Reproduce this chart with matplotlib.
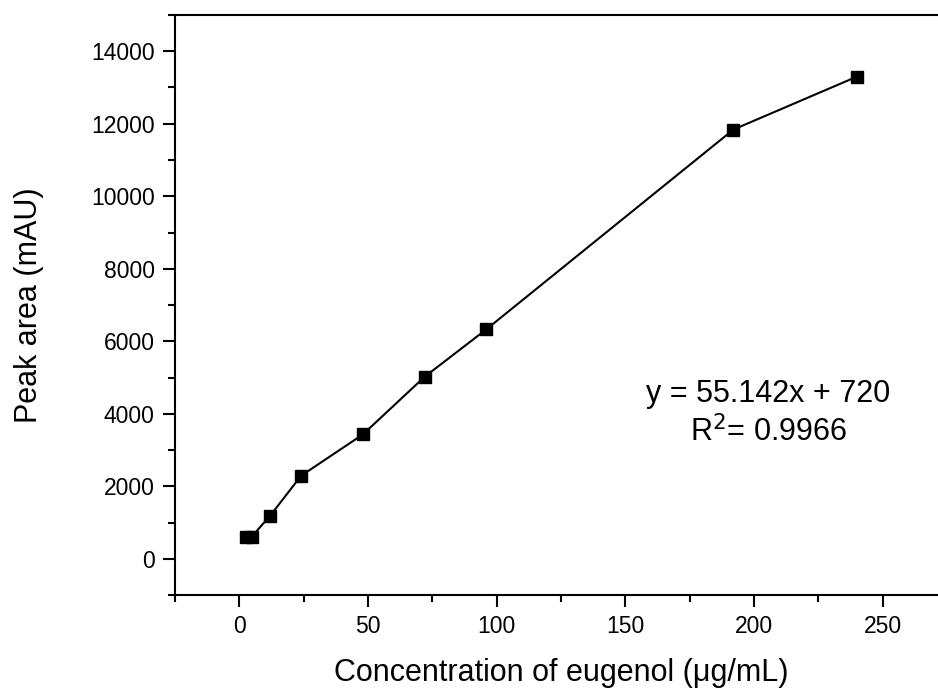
import matplotlib
matplotlib.use('Agg')
import matplotlib.pyplot as plt
from matplotlib.ticker import MultipleLocator

plt.rcParams['font.family'] = ['Liberation Sans', 'DejaVu Sans']

# eugenol calibration
conc = [2.4, 4.8, 12, 24, 48, 72, 96, 192, 240]
peak_area = [600, 610, 1190, 2290, 3430, 5020, 6330, 11840, 13300]

eq_text = 'y = 55.142x + 720'
r2_text = 'R$^2$= 0.9966'

fig = plt.figure(figsize=(9.38, 6.91), dpi=100)
ax = fig.add_axes([0.1866, 0.1389, 0.8230, 0.8394])

ax.plot(conc, peak_area, color='k', lw=1.5, marker='s', ms=8.5,
        mfc='k', mec='k')

ax.set_xlim(-25, 275)
ax.set_ylim(-1000, 15000)
ax.xaxis.set_major_locator(MultipleLocator(50))
ax.xaxis.set_minor_locator(MultipleLocator(25))
ax.yaxis.set_major_locator(MultipleLocator(2000))
ax.yaxis.set_minor_locator(MultipleLocator(1000))

for s in ax.spines.values():
    s.set_linewidth(1.5)
ax.tick_params(which='major', direction='out', length=8.6, width=1.5,
               labelsize=16.5, pad=6)
ax.tick_params(which='minor', direction='out', length=5, width=1.5)
ax.tick_params(top=False, right=False, which='both')

ax.set_xlabel('Concentration of eugenol (\u03bcg/mL)', fontsize=22)
ax.xaxis.set_label_coords(0.5, -0.108)
ax.set_ylabel('Peak area (mAU)', fontsize=22)
ax.yaxis.set_label_coords(-0.170, 0.5)

ax.text(205.5, 4550, eq_text, fontsize=22, ha='center', va='center')
ax.text(205.5, 3480, r2_text, fontsize=22, ha='center', va='center')

fig.savefig('out.png', dpi=100)
